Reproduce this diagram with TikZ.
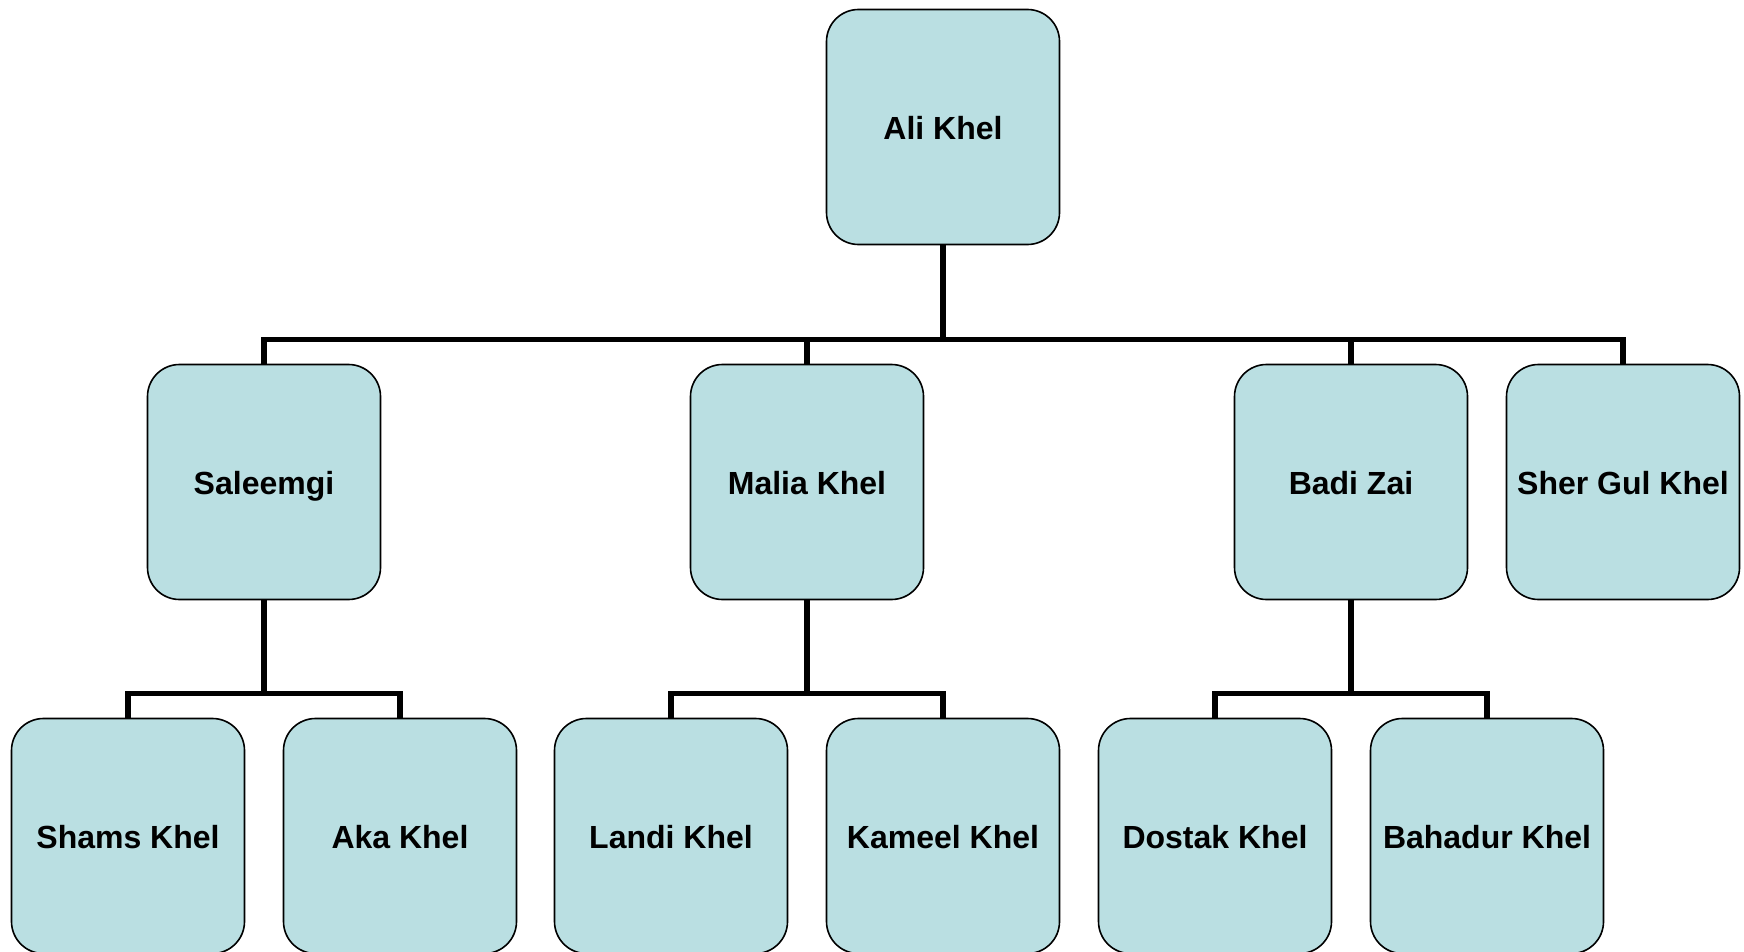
\documentclass[tikz,border=0pt]{standalone}
\usepackage{fontspec}
\setmainfont{Liberation Sans}
\usetikzlibrary{positioning}
\begin{document}
\begin{tikzpicture}[x=1pt,y=-1pt,
    clan/.style={draw=black,line width=1.6pt,fill=clan_fill,rounded corners=32pt,
      minimum width=233pt,minimum height=235pt,inner sep=0,
      text height=25pt,text depth=0pt,
      font=\bfseries\fontsize{32}{38}\selectfont},
    link/.style={line width=5.5pt}]
    \definecolor{clan_fill}{rgb}{0.729, 0.875, 0.886}
    \useasboundingbox (0,0) rectangle (1744,952);

    \node[clan] (ali) at (943,127) {Ali Khel};

    \node[clan] (saleemgi) at (264,482) {Saleemgi};
    \node[clan] (malia) at (807,482) {Malia Khel};
    \node[clan] (badi) at (1351,482) {Badi Zai};
    \node[clan] (shergul) at (1623,482) {Sher Gul Khel};

    \node[clan] (shams) at (128,836) {Shams Khel};
    \node[clan] (aka) at (400,836) {Aka Khel};
    \node[clan] (landi) at (671,836) {Landi Khel};
    \node[clan] (kameel) at (943,836) {Kameel Khel};
    \node[clan] (dostak) at (1215,836) {Dostak Khel};
    \node[clan] (bahadur) at (1487,836) {Bahadur Khel};

    % first level
    \draw[link] (ali.south) -- ++(0,94) -| (saleemgi.north);
    \draw[link] (ali.south) -- ++(0,94) -| (malia.north);
    \draw[link] (ali.south) -- ++(0,94) -| (badi.north);
    \draw[link] (ali.south) -- ++(0,94) -| (shergul.north);

    % second level
    \draw[link] (saleemgi.south) -- ++(0,93) -| (shams.north);
    \draw[link] (saleemgi.south) -- ++(0,93) -| (aka.north);
    \draw[link] (malia.south) -- ++(0,93) -| (landi.north);
    \draw[link] (malia.south) -- ++(0,93) -| (kameel.north);
    \draw[link] (badi.south) -- ++(0,93) -| (dostak.north);
    \draw[link] (badi.south) -- ++(0,93) -| (bahadur.north);

  \end{tikzpicture}
\end{document}
